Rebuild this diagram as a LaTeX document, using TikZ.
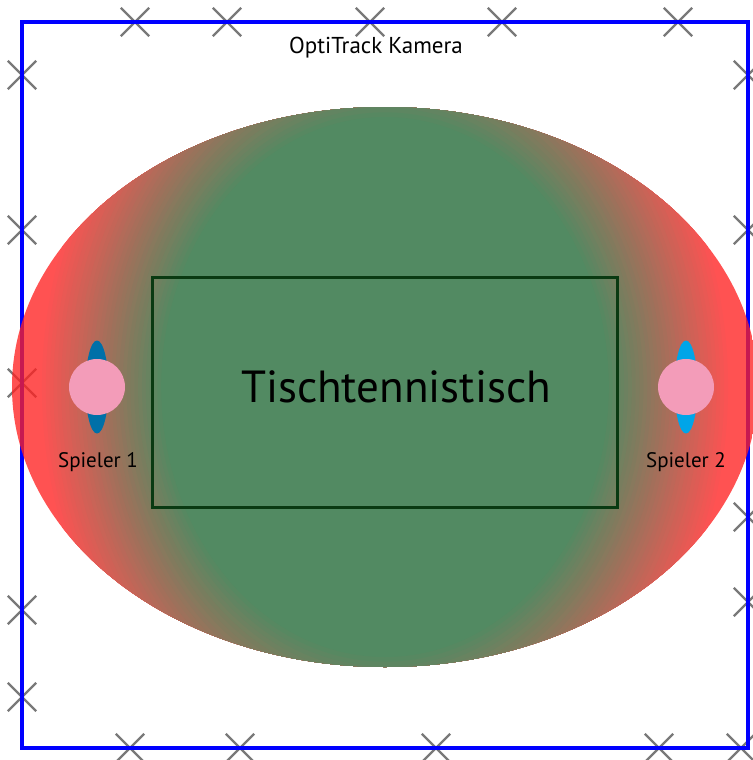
\documentclass[tikz,border=0pt]{standalone}
\usepackage{fontspec}
\setmainfont{PT Sans}
\usetikzlibrary{shapes.misc}

\definecolor{fieldgreen}{RGB}{33,105,54}
\definecolor{fieldred}{RGB}{255,33,33}
\definecolor{tableline}{RGB}{10,58,18}
\definecolor{skin}{RGB}{243,156,185}
\definecolor{shirtone}{RGB}{0,112,168}
\definecolor{shirttwo}{RGB}{0,165,232}

\begin{document}
\begin{tikzpicture}[x=1pt, y=-1pt,
	cam/.style={cross out, draw=black!70, line width=2.4pt, minimum size=26pt, inner sep=0pt, opacity=.75},
	head/.style={circle, fill=skin, minimum size=56pt, inner sep=0pt},
	tag/.style={anchor=base, font=\fontsize{21}{24}\selectfont}]
	\useasboundingbox (0,0) rectangle (752,760);
	% Kameras am Rand
	\foreach \x in {135,227,370,502,678} \node[cam] (camtop\x) at (\x,22) {};
	\foreach \x in {130,240,436,659,741} \node[cam] (cambot\x) at (\x,748) {};
	\foreach \y in {75,230,383,610,697} \node[cam] (camleft\y) at (22,\y) {};
	\foreach \y in {75,230,517,602} \node[cam] (camright\y) at (748,\y) {};
	\draw[blue, line width=3.5pt] (22,22) rectangle (748,748);
	\node[anchor=base, font=\fontsize{23}{27}\selectfont] (kamera) at (376,53) {OptiTrack Kamera};
	% Sichtfeld, von rot (Rand) nach gruen (Mitte)
	\begin{scope}[transparency group, opacity=.78]
		\clip (385,387) ellipse [x radius=373, y radius=280];
		\fill[fieldred] (385,387) ellipse [x radius=373, y radius=450];
		\foreach \k in {1,...,32} {
			\pgfmathsetmacro\t{0.93-\k*0.33/32}
			\pgfmathsetmacro\p{100-\k*100/32}
			\fill[fieldred!\p!fieldgreen] (385,387) ellipse [x radius=373*\t, y radius=450*\t];
		}
	\end{scope}
	% Tisch
	\node[draw=tableline, line width=3pt, minimum width=465pt, minimum height=230pt, inner sep=0pt] (tisch) at (384.5,392) {};
	\node[anchor=base, font=\fontsize{45}{50}\selectfont] (tischtext) at (396,402) {Tischtennistisch};
	% Spieler
	\fill[shirtone] (97,387) ellipse [x radius=11.5, y radius=46.5];
	\node[head] (kopfeins) at (97,387) {};
	\node[tag] (spielereins) at (98,467) {Spieler 1};
	\fill[shirttwo] (686,387) ellipse [x radius=11.5, y radius=46.5];
	\node[head] (kopfzwei) at (686,387) {};
	\node[tag] (spielerzwei) at (686,467) {Spieler 2};
\end{tikzpicture}
\end{document}
